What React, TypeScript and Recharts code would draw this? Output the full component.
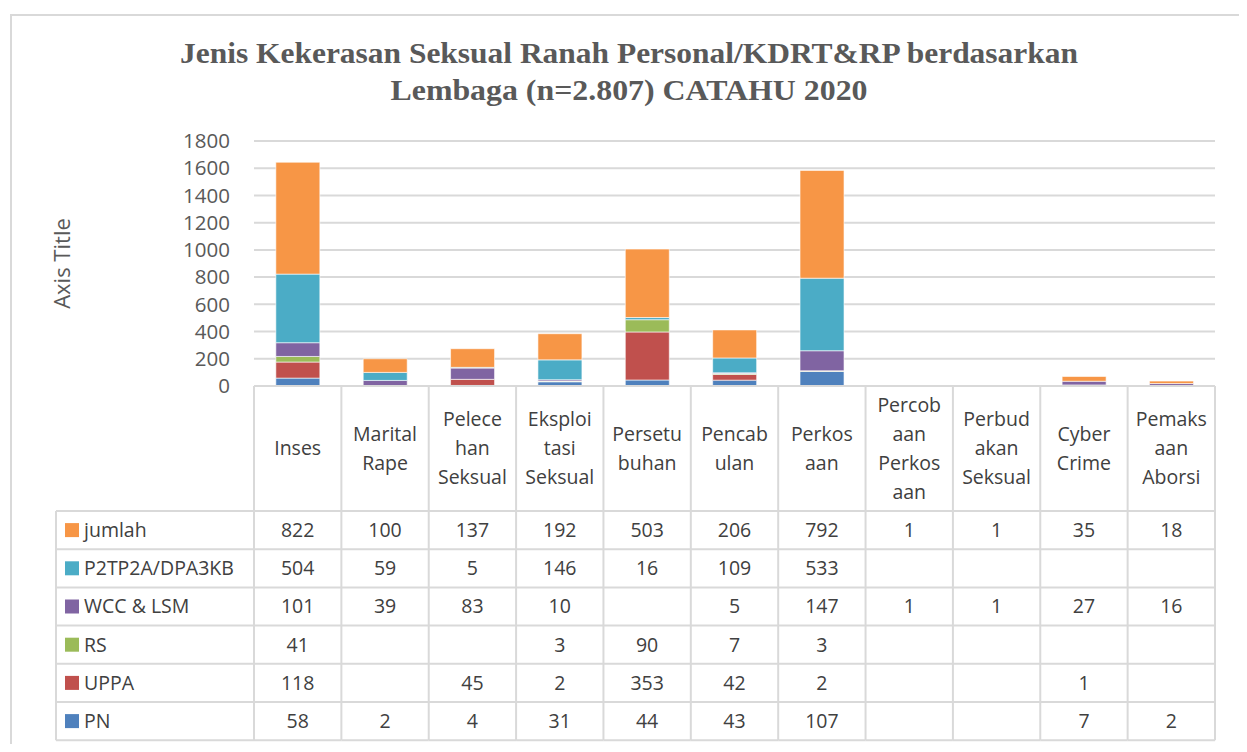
import React from 'react';
import { BarChart, Bar, XAxis, YAxis, CartesianGrid } from 'recharts';

const categories = [
  'Inses', 'Marital Rape', 'Pelecehan Seksual', 'Eksploitasi Seksual', 'Persetubuhan',
  'Pencabulan', 'Perkosaan', 'Percobaan Perkosaan', 'Perbudakan Seksual', 'Cyber Crime', 'Pemaksaan Aborsi',
];
// header lines as wrapped in the original table
const headerLines = [
  ['Inses'], ['Marital', 'Rape'], ['Pelece', 'han', 'Seksual'], ['Eksploi', 'tasi', 'Seksual'],
  ['Persetu', 'buhan'], ['Pencab', 'ulan'], ['Perkos', 'aan'], ['Percob', 'aan', 'Perkos', 'aan'],
  ['Perbud', 'akan', 'Seksual'], ['Cyber', 'Crime'], ['Pemaks', 'aan', 'Aborsi'],
];

const jumlah = [822, 100, 137, 192, 503, 206, 792, 1, 1, 35, 18];
const p2tp2a = [504, 59, 5, 146, 16, 109, 533, null, null, null, null];
const wcc = [101, 39, 83, 10, null, 5, 147, 1, 1, 27, 16];
const rs = [41, null, null, 3, 90, 7, 3, null, null, null, null];
const uppa = [118, null, 45, 2, 353, 42, 2, null, null, 1, null];
const pn = [58, 2, 4, 31, 44, 43, 107, null, null, 7, 2];

const yTicks = [0, 200, 400, 600, 800, 1000, 1200, 1400, 1600, 1800];

// table rows, top to bottom
const series = [
  { key: 'jumlah', name: 'jumlah', color: '#F79646', values: jumlah },
  { key: 'p2tp2a', name: 'P2TP2A/DPA3KB', color: '#4BACC6', values: p2tp2a },
  { key: 'wcc', name: 'WCC & LSM', color: '#8064A2', values: wcc },
  { key: 'rs', name: 'RS', color: '#9BBB59', values: rs },
  { key: 'uppa', name: 'UPPA', color: '#C0504D', values: uppa },
  { key: 'pn', name: 'PN', color: '#4F81BD', values: pn },
];

const data = categories.map((c, i) => {
  const row: any = { name: c };
  series.forEach(s => { row[s.key] = s.values[i]; });
  return row;
});

const W = 1247;
const H = 752;
const M = { top: 141, right: 32, bottom: 0, left: 54 };
const Y_W = 200;
const X_H = 366;
const PLOT_L = M.left + Y_W;
const PLOT_W = W - PLOT_L - M.right;
const COL_W = PLOT_W / categories.length;
const HEAD_H = 125;
const ROW_H = 38.2;
const KEY_L = 56;
const LINE = '#d9d9d9';
const TXT = '#404040';
const FONT = '"Open Sans", sans-serif';

function TableTick(props: any) {
  const { x, y } = props;
  const i = props.index ?? props.payload?.index ?? 0;
  const left = x - COL_W / 2;
  const right = x + COL_W / 2;
  const lines = headerLines[i];
  const headMid = y + HEAD_H / 2;
  const bottom = y + HEAD_H + ROW_H * series.length;
  return (
    <g>
      <line x1={left} x2={right} y1={y} y2={y} stroke={LINE} strokeWidth={2} />
      <line x1={left} x2={left} y1={y} y2={bottom} stroke={LINE} strokeWidth={2} />
      {i === categories.length - 1 && (
        <line x1={right} x2={right} y1={y} y2={bottom} stroke={LINE} strokeWidth={2} />
      )}
      {lines.map((l, k) => (
        <text key={k} x={x} y={headMid + (k - (lines.length - 1) / 2) * 29} dy="0.35em"
          textAnchor="middle" fontSize={19.5} fill={TXT} fontFamily={FONT}>{l}</text>
      ))}
      {series.map((s, r) => {
        const top = y + HEAD_H + r * ROW_H;
        const v = s.values[i];
        return (
          <g key={s.key}>
            <line x1={left} x2={right} y1={top} y2={top} stroke={LINE} strokeWidth={2} />
            {v != null && (
              <text x={x} y={top + ROW_H / 2} dy="0.35em" textAnchor="middle"
                fontSize={19.5} fill={TXT} fontFamily={FONT}>{v}</text>
            )}
          </g>
        );
      })}
      <line x1={left} x2={right} y1={bottom} y2={bottom} stroke={LINE} strokeWidth={2} />
      {i === 0 && (
        <g>
          <line x1={KEY_L} x2={KEY_L} y1={y + HEAD_H} y2={bottom} stroke={LINE} strokeWidth={2} />
          {series.map((s, r) => {
            const top = y + HEAD_H + r * ROW_H;
            return (
              <g key={s.key}>
                <line x1={KEY_L} x2={left} y1={top} y2={top} stroke={LINE} strokeWidth={2} />
                <rect x={65} y={top + ROW_H / 2 - 7} width={14} height={14} fill={s.color} />
                <text x={84} y={top + ROW_H / 2} dy="0.35em" fontSize={19.5} fill={TXT} fontFamily={FONT}>{s.name}</text>
              </g>
            );
          })}
          <line x1={KEY_L} x2={left} y1={bottom} y2={bottom} stroke={LINE} strokeWidth={2} />
        </g>
      )}
    </g>
  );
}

export default function App() {
  return (
    <div style={{ position: 'relative', width: W, height: H, margin: -8, background: '#fff', overflow: 'hidden' }}>
      <svg width={W} height={H} style={{ position: 'absolute', left: 0, top: 0 }}>
        <rect x={11} y={15} width={1230} height={760} fill="#fff" stroke={LINE} strokeWidth={2} />
        <text x={629} y={63} textAnchor="middle" fontSize={29} fontWeight="bold" fill="#595959"
          fontFamily='"Liberation Serif", serif' textLength={898} lengthAdjust="spacingAndGlyphs">
          Jenis Kekerasan Seksual Ranah Personal/KDRT&amp;RP berdasarkan
        </text>
        <text x={629} y={100} textAnchor="middle" fontSize={29} fontWeight="bold" fill="#595959"
          fontFamily='"Liberation Serif", serif' textLength={477} lengthAdjust="spacingAndGlyphs">
          Lembaga (n=2.807) CATAHU 2020
        </text>
      </svg>
      <div style={{ position: 'absolute', left: 0, top: 0 }}>
        <BarChart width={W} height={H} data={data} margin={M} barCategoryGap="25%">
          <CartesianGrid vertical={false} stroke={LINE} strokeWidth={2} />
          <YAxis
            width={Y_W}
            domain={[0, 1800]}
            ticks={yTicks}
            axisLine={false}
            tickLine={false}
            tickSize={0}
            tickMargin={24}
            interval={0}
            tick={{ fill: '#595959', fontSize: 20.5, fontFamily: FONT }}
            label={{ value: 'Axis Title', angle: -90, position: 'insideLeft', offset: 8,
              fontSize: 22, fill: '#595959', fontFamily: FONT, textAnchor: 'middle' }}
          />
          <XAxis
            dataKey="name"
            height={X_H}
            axisLine={false}
            tickLine={false}
            tickSize={0}
            tickMargin={0}
            interval={0}
            tick={<TableTick />}
          />
          {[...series].reverse().map(s => (
            <Bar key={s.key} dataKey={s.key} stackId="a" fill={s.color} stroke="#fff" strokeWidth={0.6}
              isAnimationActive={false} />
          ))}
        </BarChart>
      </div>
    </div>
  );
}
